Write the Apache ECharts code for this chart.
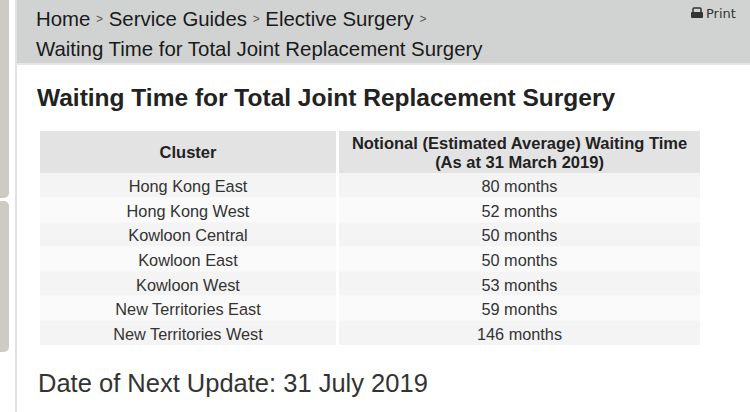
<!DOCTYPE html>
<html>
<head>
<meta charset="utf-8">
<script src="https://cdn.jsdelivr.net/npm/echarts@6/dist/echarts.min.js"></script>
<style>
html,body{margin:0;padding:0;background:#fff;}
#chart{width:750px;height:412px;}
</style>
</head>
<body>
<div id="chart"></div>
<script>
// ---- data ----
var breadcrumb = ['Home', 'Service Guides', 'Elective Surgery'];
var pageTitle = 'Waiting Time for Total Joint Replacement Surgery';
var columnHeaders = ['Cluster', 'Notional (Estimated Average) Waiting Time\n(As at 31 March 2019)'];
var clusters = ['Hong Kong East', 'Hong Kong West', 'Kowloon Central', 'Kowloon East', 'Kowloon West', 'New Territories East', 'New Territories West'];
var waitingMonths = [80, 52, 50, 50, 53, 59, 146];
var unitLabel = 'months';
var nextUpdate = 'Date of Next Update: 31 July 2019';

// ---- build ----
var FONT = '"Liberation Sans", Arial, Helvetica, sans-serif';
var COL_SPLIT = 296 / 660;
var COL_GAP = 3;

var cellData = [];
clusters.forEach(function (c, i) {
  cellData.push([0, i, c]);
  cellData.push([1, i, waitingMonths[i] + ' ' + unitLabel]);
});
var headerData = columnHeaders.map(function (h, i) { return [i, 0, h]; });

function colRect(cs, col) {
  var splitX = cs.x + cs.width * COL_SPLIT;
  if (col === 0) return { x: cs.x, w: splitX - cs.x };
  return { x: splitX + COL_GAP, w: cs.x + cs.width - splitX - COL_GAP };
}

function makeRender(isHeader) {
  return function (params, api) {
    var cs = params.coordSys;
    var col = api.value(0);
    var row = api.value(1);
    var cy = api.coord([col, row])[1];
    var h = api.size([0, 1])[1];
    var r = colRect(cs, col);
    var fill = isHeader ? '#e3e3e3' : (row % 2 === 0 ? '#f4f4f4' : '#fafafa');
    var txt = isHeader ? columnHeaders[col] : api.value(2);
    return {
      type: 'group',
      children: [
        { type: 'rect', shape: { x: r.x, y: cy - h / 2, width: r.w, height: h }, style: { fill: fill } },
        { type: 'text', x: r.x + r.w / 2, y: cy + (isHeader ? 0 : 1),
          style: { text: txt, fill: isHeader ? '#222' : '#333', font: (isHeader ? 'bold 16.5px ' : '16.3px ') + FONT,
                   align: 'center', verticalAlign: 'middle', lineHeight: 19 } }
      ]
    };
  };
}

var sep = '{s|>}';
var chart = echarts.init(document.getElementById('chart'), null, { renderer: 'svg' });
chart.setOption({
  animation: false,
  grid: [
    { left: 40, top: 131, width: 660, height: 42 },
    { left: 40, top: 173, width: 660, height: 172 }
  ],
  xAxis: [
    { gridIndex: 0, type: 'category', data: ['c0', 'c1'], show: false },
    { gridIndex: 1, type: 'category', data: ['c0', 'c1'], show: false }
  ],
  yAxis: [
    { gridIndex: 0, type: 'category', data: ['header'], inverse: true, show: false },
    { gridIndex: 1, type: 'category', data: clusters, inverse: true, show: false }
  ],
  graphic: [
    { type: 'rect', shape: { x: 0, y: 0, width: 9, height: 198, r: [0, 0, 5, 0] }, style: { fill: '#cdcbc4' } },
    { type: 'rect', shape: { x: 0, y: 201, width: 9, height: 151, r: [0, 5, 5, 0] }, style: { fill: '#cdcbc4' } },
    { type: 'rect', shape: { x: 15, y: 0, width: 2, height: 412 }, style: { fill: '#e2e2e2' } },
    { type: 'rect', shape: { x: 17, y: 0, width: 733, height: 63 }, style: { fill: '#d1d3d2' } },
    { type: 'rect', shape: { x: 17, y: 63, width: 733, height: 2 }, style: { fill: '#e6e6e6' } },
    { type: 'text', x: 36, y: 19, style: {
        text: breadcrumb[0] + ' ' + sep + ' ' + breadcrumb[1] + ' ' + sep + ' ' + breadcrumb[2] + ' ' + sep,
        font: '20.4px ' + FONT, fill: '#1a1a1a', verticalAlign: 'middle',
        rich: { s: { fontSize: 12, fontFamily: FONT, fill: '#555' } } } },
    { type: 'text', x: 36, y: 49, style: { text: pageTitle, font: '20.4px ' + FONT, fill: '#1a1a1a', verticalAlign: 'middle' } },
    { type: 'group', x: 691, y: 8, children: [
        { type: 'rect', shape: { x: 2, y: 0, width: 8, height: 5, r: 1 }, style: { fill: 'none', stroke: '#333', lineWidth: 1.5 } },
        { type: 'rect', shape: { x: 0, y: 4, width: 12, height: 6, r: 1 }, style: { fill: '#333' } }
    ] },
    { type: 'text', x: 706, y: 13, style: { text: 'Print', font: '13px "DejaVu Sans", Verdana, sans-serif', fill: '#333', verticalAlign: 'middle' } },
    { type: 'text', x: 37, y: 97, style: { text: pageTitle, font: 'bold 24.5px ' + FONT, fill: '#222', verticalAlign: 'middle' } },
    { type: 'text', x: 38, y: 383, style: { text: nextUpdate, font: '25.5px ' + FONT, fill: '#333', verticalAlign: 'middle' } }
  ],
  series: [
    { type: 'custom', xAxisIndex: 0, yAxisIndex: 0, data: headerData, renderItem: makeRender(true), silent: true },
    { type: 'custom', xAxisIndex: 1, yAxisIndex: 1, data: cellData, renderItem: makeRender(false), silent: true }
  ]
});
</script>
</body>
</html>
